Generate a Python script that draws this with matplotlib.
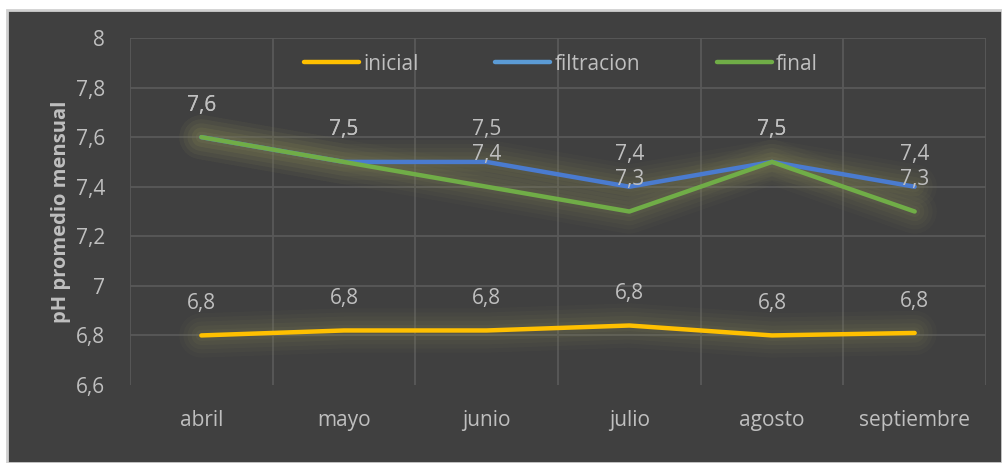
import matplotlib
matplotlib.use("Agg")
import matplotlib.pyplot as plt
from matplotlib.patches import Rectangle

months = ["abril", "mayo", "junio", "julio", "agosto", "septiembre"]
inicial = [6.80, 6.82, 6.82, 6.84, 6.80, 6.81]
filtracion = [7.6, 7.5, 7.5, 7.4, 7.5, 7.4]
final = [7.6, 7.5, 7.4, 7.3, 7.5, 7.3]
yticks = [6.6, 6.8, 7.0, 7.2, 7.4, 7.6, 7.8, 8.0]

BG = "#404040"
GRID = "#595959"
TXT = "#bfbfbf"
FONT = ["Open Sans", "DejaVu Sans"]
plt.rcParams["font.family"] = FONT
FS = 15

W, H = 1002, 463
fig = plt.figure(figsize=(W / 100, H / 100), dpi=100, facecolor="white")
fig.patches.append(Rectangle((7 / W, 0), (W - 7) / W, (H - 10) / H, transform=fig.transFigure,
                             facecolor=BG, edgecolor="#d0d0d0", linewidth=2, zorder=-10))

ax = fig.add_axes([130 / W, 1 - 385 / H, (986 - 130) / W, (385 - 38) / H])
ax.set_facecolor(BG)
x = list(range(len(months)))
ax.set_xlim(-0.5, len(months) - 0.5)
ax.set_ylim(6.6, 8.0)

for yv in yticks[1:]:
    ax.axhline(yv, color=GRID, lw=1.3, zorder=1)
for xv in [i - 0.5 for i in range(len(months) + 1)]:
    ax.axvline(xv, color=GRID, lw=1.3, zorder=1)

glow = "#7d7d55"
series = [(inicial, "#FFC000", "#FFC000", "inicial"),
          (filtracion, "#4A7BCF", "#5B9BD5", "filtracion"),
          (final, "#70AD47", "#70AD47", "final")]
for vals, col, lcol, name in series:
    for w, a in [(32, 0.06), (26, 0.07), (20, 0.09), (14, 0.11), (8, 0.13)]:
        ax.plot(x, vals, color=glow, lw=w, alpha=a, solid_capstyle="round", solid_joinstyle="round", zorder=2)
handles = []
for vals, col, lcol, name in series:
    ax.plot(x, vals, color=col, lw=3.2, solid_capstyle="round", solid_joinstyle="round", zorder=3)
    h, = ax.plot([], [], color=lcol, lw=3.2, solid_capstyle="round", label=name)
    handles.append(h)

def fmt(v):
    return f"{v:.1f}".replace(".", ",")

for vals in (inicial, filtracion, final):
    for xi, v in zip(x, vals):
        ax.annotate(fmt(v), (xi, v), xytext=(0, 23), textcoords="offset points",
                    ha="center", va="center", color=TXT, fontsize=FS, zorder=4)

ax.set_yticks(yticks)
ax.set_yticklabels([fmt(v) if v != round(v) else str(int(round(v))) for v in yticks])
ax.set_xticks(x)
ax.set_xticklabels(months)
ax.tick_params(axis="both", length=0, colors=TXT, labelsize=FS)
ax.tick_params(axis="y", pad=18)
ax.tick_params(axis="x", pad=18)
for s in ax.spines.values():
    s.set_visible(False)
ax.set_ylabel("pH promedio mensual", color=TXT, fontsize=14.5, fontweight="bold", labelpad=3)

fpx = FS * 100 / 72
leg = ax.legend(handles=handles, loc="center", bbox_to_anchor=(0.5035, 1 - (64 - 38) / (385 - 38)), ncol=3,
                frameon=False, fontsize=FS, handlelength=55 / fpx, handletextpad=4 / fpx,
                columnspacing=77 / fpx, borderpad=0)
for t in leg.get_texts():
    t.set_color(TXT)

fig.savefig("out.png", dpi=100, facecolor="white")
